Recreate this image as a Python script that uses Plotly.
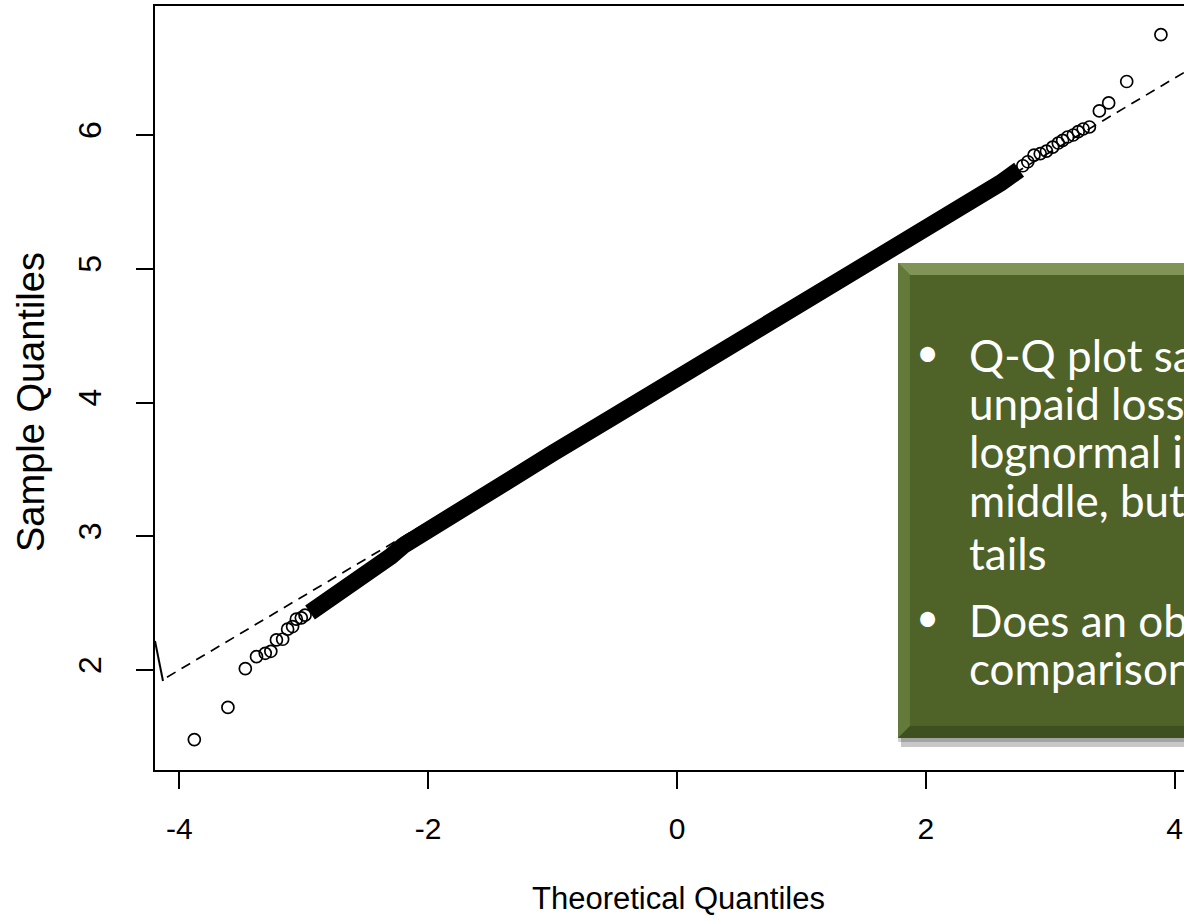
import plotly.graph_objects as go

# ---------------- data ----------------
LEFT_TAIL_X = [-3.88, -3.61, -3.47, -3.38, -3.31, -3.265, -3.22, -3.17, -3.13, -3.09, -3.06, -3.02, -2.99]
LEFT_TAIL_Y = [1.48, 1.72, 2.01, 2.10, 2.125, 2.14, 2.225, 2.23, 2.305, 2.325, 2.38, 2.39, 2.41]

RIGHT_TAIL_X = [2.78, 2.82, 2.87, 2.92, 2.97, 3.02, 3.065, 3.10, 3.14, 3.185, 3.225, 3.265, 3.315, 3.395, 3.47, 3.615, 3.89]
RIGHT_TAIL_Y = [5.77, 5.80, 5.85, 5.86, 5.88, 5.91, 5.94, 5.96, 5.985, 6.00, 6.025, 6.045, 6.06, 6.18, 6.24, 6.40, 6.75]

BAND_X = [-2.95, -2.9, -2.8, -2.7, -2.6, -2.5, -2.4, -2.3, -2.2, -2.1, -2.0, -1.75, -1.5, -1.0,
          -0.5, 0.0, 0.5, 1.0, 1.5, 1.8, 2.0, 2.2, 2.4, 2.6, 2.75]
BAND_Y = [2.43, 2.46, 2.53, 2.60, 2.66, 2.72, 2.78, 2.85, 2.93, 2.99, 3.05, 3.19, 3.34, 3.62,
          3.90, 4.18, 4.46, 4.73, 5.01, 5.17, 5.29, 5.41, 5.53, 5.64, 5.74]

QQLINE_X = [-4.1, 4.2]
QQLINE_Y = [1.946, 6.536]

X_TICKS = [-4, -2, 0, 2, 4]
Y_TICKS = [2, 3, 4, 5, 6]

BULLET_LINES = [
    ("Q-Q plot says", True),
    ("unpaid losses are", False),
    ("lognormal in the", False),
    ("middle, but not in the", False),
    ("tails", False),
    ("Does an objective", True),
    ("comparison of", False),
]

# ---------------- layout geometry (pixels) ----------------
W, H = 1184, 922
ML, MR, MT, MB = 155, 0, 6, 152
PW = W - ML - MR
PH = H - MT - MB


def px(xp):
    return (xp - ML) / PW


def py(yp):
    return (H - MB - yp) / PH


fig = go.Figure()

fig.add_trace(go.Scatter(
    x=QQLINE_X, y=QQLINE_Y, mode="lines",
    line=dict(color="black", width=1.7, dash="10px,7px"),
    hoverinfo="skip", showlegend=False))

fig.add_trace(go.Scatter(
    x=BAND_X, y=BAND_Y, mode="lines",
    line=dict(color="black", width=17),
    showlegend=False))

fig.add_trace(go.Scatter(
    x=LEFT_TAIL_X + RIGHT_TAIL_X, y=LEFT_TAIL_Y + RIGHT_TAIL_Y, mode="markers",
    marker=dict(symbol="circle-open", size=12, color="black", line=dict(width=1.7, color="black")),
    showlegend=False))

axis_font = dict(family="Liberation Sans, Arial, sans-serif", color="black")

fig.update_xaxes(
    range=[(ML - 677) / 124.4, (W - 677) / 124.4],
    tickvals=X_TICKS, ticktext=[str(v) for v in X_TICKS],
    ticks="outside", ticklen=17, tickwidth=1.6, tickcolor="black",
    showline=True, linecolor="black", linewidth=2, mirror=True,
    showgrid=False, zeroline=False,
    tickfont=dict(size=30, **axis_font),
    ticklabelstandoff=14,
)
fig.update_yaxes(
    range=[2 - 100 / 133.75, 6 + 129 / 133.75],
    tickvals=Y_TICKS, ticktext=[str(v) for v in Y_TICKS],
    ticks="outside", ticklen=17, tickwidth=1.6, tickcolor="black",
    showline=True, linecolor="black", linewidth=2, mirror=False,
    showgrid=False, zeroline=False,
    tickangle=-90,
    tickfont=dict(size=32, **axis_font),
    ticklabelstandoff=22,
)

shapes = []
# little stray solid stroke at left edge
shapes.append(dict(type="line", xref="paper", yref="paper",
                   x0=px(155), y0=py(641), x1=px(163), y1=py(681),
                   line=dict(color="black", width=2)))

# green text box with bevel and shadow
bx0, by0, bx1, by1 = 898, 263, W + 5, 738
bev = 12
shapes.append(dict(type="rect", xref="paper", yref="paper", layer="above",
                   x0=px(bx0 + 3), y0=py(by1 + 9), x1=px(bx1), y1=py(by0 + 6),
                   fillcolor="rgba(0,0,0,0.22)", line=dict(width=0)))
shapes.append(dict(type="rect", xref="paper", yref="paper", layer="above",
                   x0=px(bx0), y0=py(by1 + 4), x1=px(bx1), y1=py(by0 + 3),
                   fillcolor="rgba(0,0,0,0.18)", line=dict(width=0)))


def poly(pts, color):
    path = "M " + " L ".join(f"{px(a):.5f},{py(b):.5f}" for a, b in pts) + " Z"
    return dict(type="path", xref="paper", yref="paper", layer="above", path=path,
                fillcolor=color, line=dict(width=0))


shapes.append(poly([(bx0, by0), (bx1, by0), (bx1, by1), (bx0, by1)], "#55692d"))
shapes.append(poly([(bx0, by0), (bx1, by0), (bx1, by0 + bev), (bx0 + bev, by0 + bev)], "#7f9456"))
shapes.append(poly([(bx0, by0), (bx0 + bev, by0 + bev), (bx0 + bev, by1 - bev), (bx0, by1)], "#647a3a"))
shapes.append(poly([(bx0, by1), (bx0 + bev, by1 - bev), (bx1, by1 - bev), (bx1, by1)], "#3f5020"))
shapes.append(poly([(bx0 + bev, by0 + bev), (bx1, by0 + bev), (bx1, by1 - bev), (bx0 + bev, by1 - bev)], "#4f6228"))
fig.update_layout(shapes=shapes)

annotations = []
line_ys = [355, 403, 451, 500, 553, 620, 668]
for (txt, bullet), yy in zip(BULLET_LINES, line_ys):
    if bullet:
        annotations.append(dict(xref="paper", yref="paper", x=px(927), y=py(yy - 3),
                                xanchor="center", yanchor="middle", showarrow=False,
                                text="•", font=dict(family="Lato, sans-serif", size=40, color="white")))
    annotations.append(dict(xref="paper", yref="paper", x=px(967), y=py(yy),
                            xanchor="left", yanchor="middle", showarrow=False,
                            text=txt, font=dict(family="Lato, sans-serif", size=44, color="white")))

annotations.append(dict(xref="paper", yref="paper", x=px(678), y=py(898),
                        xanchor="center", yanchor="middle", showarrow=False,
                        text="Theoretical Quantiles", font=dict(size=31, **axis_font)))
annotations.append(dict(xref="paper", yref="paper", x=px(31), y=py(402),
                        xanchor="center", yanchor="middle", showarrow=False, textangle=-90,
                        text="Sample Quantiles", font=dict(size=38, **axis_font)))
fig.update_layout(annotations=annotations)

fig.update_layout(
    width=W, height=H, autosize=False,
    margin=dict(l=ML, r=MR, t=MT, b=MB, pad=0),
    paper_bgcolor="white", plot_bgcolor="white",
    showlegend=False,
)

fig.write_html("out.html", config={"displayModeBar": False},
               post_script="document.body.style.margin='0px';document.body.style.overflow='hidden';")
